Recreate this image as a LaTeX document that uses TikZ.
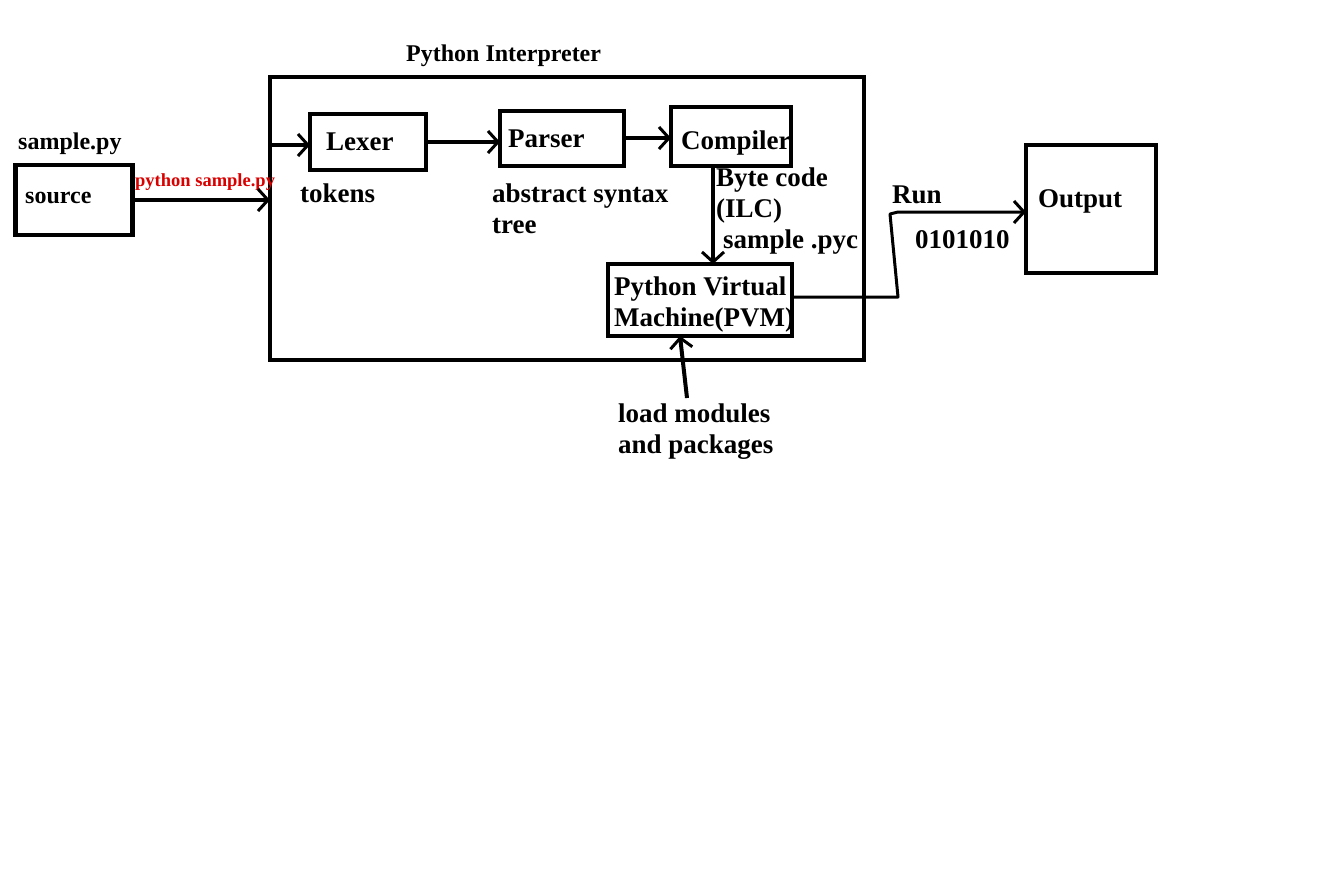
\documentclass[tikz,border=0pt]{standalone}
\usepackage{fontspec}
\setmainfont{Liberation Serif}
\usetikzlibrary{arrows.meta}
\begin{document}
\begin{tikzpicture}[x=1pt,y=-1pt,
  box/.style={draw,line width=4.5pt,inner sep=0pt,outer sep=0pt},
  arr/.style={line width=4pt,-{Straight Barb[length=10pt,width=22pt,line width=3pt]}},
  thinarr/.style={line width=3pt,line join=round,-{Straight Barb[length=10pt,width=22pt,line width=3pt]}},
  big/.style={font=\bfseries\fontsize{27}{31}\selectfont,inner sep=0pt,anchor=base west,align=left},
  mid/.style={font=\bfseries\fontsize{24}{28}\selectfont,inner sep=0pt,anchor=base west},
  red/.style={font=\bfseries\fontsize{18.5}{22}\selectfont,inner sep=0pt,anchor=base west,text=red!85!black}]
\useasboundingbox (0,0) rectangle (1331,892);
% boxes
\node[box,minimum width=117pt,minimum height=70pt] (src) at (74,200) {};
\node[box,minimum width=594pt,minimum height=283pt] (interp) at (567,218.5) {};
\node[box,minimum width=116pt,minimum height=56pt] (lexer) at (368,142) {};
\node[box,minimum width=124pt,minimum height=55pt] (parser) at (562,138.5) {};
\node[box,minimum width=120pt,minimum height=59pt] (compiler) at (731,136.5) {};
\node[box,minimum width=184pt,minimum height=72pt] (pvm) at (700,300) {};
\node[box,minimum width=130pt,minimum height=128pt] (output) at (1091,209) {};
% texts (multi-line nodes: base is the last line)
\node[mid] (tsample) at (18,149) {sample.py};
\node[mid] (tsource) at (25,203) {source};
\node[red] (tcmd) at (135,186) {python sample.py};
\node[mid] (tinterp) at (406,61) {Python Interpreter};
\node[big] (tlexer) at (326,150) {Lexer};
\node[big] (tparser) at (508,147) {Parser};
\node[big] (tcompiler) at (681,149) {Compiler};
\node[big] (ttokens) at (300,202) {tokens};
\node[big] (tast) at (492,233) {abstract syntax\\tree};
\node[big] (tbyte) at (716,217) {Byte code\\(ILC)};
\node[big] (tpyc) at (723,248) {sample .pyc};
\node[big] (tpvm) at (614,326) {Python Virtual\\Machine(PVM)};
\node[big] (trun) at (892,203) {Run};
\node[big] (tbits) at (915,248) {0101010};
\node[big] (toutput) at (1038,207) {Output};
\node[big] (tload) at (618,453) {load modules\\and packages};
% connectors
\draw[arr] (src.east) -- (src.east -| interp.west);
\draw[arr] (interp.west |- 0,145) -- (lexer.west |- 0,145);
\draw[arr] (lexer.east) -- (lexer.east -| parser.west);
\draw[arr] (parser.east |- 0,138) -- (compiler.west |- 0,138);
\draw[arr] ([xshift=-18pt]compiler.south) -- ([xshift=13pt]pvm.north);
\coordinate (r1) at (898,297);
\coordinate (r2) at (890,214);
\coordinate (r3) at (898,212);
\draw[thinarr] (pvm.east |- r1) -- (r1) -- (r2) -- (r3) -- (r3 -| output.west);
\coordinate (ld) at (687,398);
\draw[arr] (ld) -- ([xshift=-20pt]pvm.south);
\end{tikzpicture}
\end{document}
